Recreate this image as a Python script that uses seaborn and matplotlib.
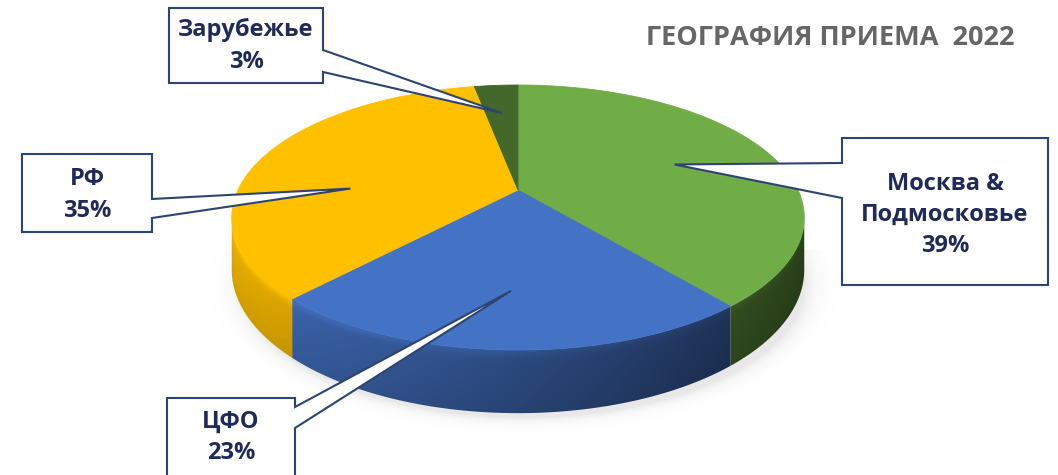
import numpy as np
import matplotlib
matplotlib.use("Agg")
import matplotlib.pyplot as plt
from matplotlib.patches import Polygon
import seaborn as sns

# ---- data ----
regions = ["Москва &\nПодмосковье", "ЦФО", "РФ", "Зарубежье"]
shares = [39, 23, 35, 3]
slice_colors = ["#70AD47", "#4472C4", "#FFC000", "#43682B"]
title_text = "ГЕОГРАФИЯ ПРИЕМА  2022"

sns.set_theme(style="white")
plt.rcParams["font.family"] = ["Open Sans", "DejaVu Sans"]
palette = sns.color_palette(slice_colors)

W, H = 1058, 475
fig = plt.figure(figsize=(W / 100, H / 100), dpi=100)
ax = fig.add_axes([0, 0, 1, 1])

# ---- 3D pie geometry (perspective tilt) ----
CX, CY = 518, 190
RX, RY = 280, 126.8
K = 0.2077          # perspective strength
DEPTH = 50          # wall height


def project(r, phi, z=0.0):
    u = r * np.cos(phi)
    v = r * np.sin(phi)
    d = 1 + K * v
    return CX + RX * u / d, CY - RY * v / d + z / d


fractions = np.asarray(shares, dtype=float) / sum(shares)
bounds = np.deg2rad(90 - 360 * np.concatenate([[0], np.cumsum(fractions)]))
vis_lo, vis_hi = -np.pi + np.arcsin(K), -np.arcsin(K)


def draw_wall(a_lo, a_hi, color):
    lo, hi = max(a_lo, vis_lo), min(a_hi, vis_hi)
    if lo >= hi:
        return
    phis = np.linspace(lo, hi, 300)
    tx, ty = project(1, phis)
    bx, by = project(1, phis, DEPTH)
    verts = np.column_stack([np.r_[tx, bx[::-1]], np.r_[ty, by[::-1]]])
    clip = Polygon(verts, closed=True, facecolor="none", edgecolor="none")
    ax.add_patch(clip)

    x0, x1 = np.floor(verts[:, 0].min()), np.ceil(verts[:, 0].max())
    y0, y1 = np.floor(verts[:, 1].min()), np.ceil(verts[:, 1].max())
    xs = np.arange(x0, x1) + 0.5
    ys = np.arange(y0, y1) + 0.5
    ytop = np.interp(xs, tx, ty)
    thick = np.interp(xs, tx, by - ty)
    t = np.clip((ys[:, None] - ytop[None, :]) / thick[None, :], 0, 1)
    # soft bevel at the rim, slightly darker toward the base
    vert = 0.95 - 0.10 * t + 0.12 * np.exp(-(t / 0.10) ** 2)
    # light from the left: the right side of the pie is much darker
    left, right = CX - RX * 1.02, CX + RX * 1.02
    horiz = 0.97 - 0.57 * np.clip((xs - left) / (right - left), 0, 1)
    shade = vert * horiz[None, :]
    rgb = np.clip(np.asarray(color)[None, None, :] * shade[:, :, None], 0, 1)
    img = np.dstack([rgb, np.ones(shade.shape)])
    im = ax.imshow(img, extent=(x0, x1, y1, y0), origin="upper",
                   interpolation="bilinear", aspect="auto", zorder=2)
    im.set_clip_path(clip)


# soft shadow below the pie
sx = np.arange(0, W) + 0.5
sy = np.arange(0, H) + 0.5
gx, gy = np.meshgrid(sx, sy)
ell = ((gx - CX - 6) / (RX * 1.0)) ** 2 + ((gy - (CY + 94)) / (RY * 1.05)) ** 2
shadow_a = 0.20 * np.exp(-np.clip(ell - 1, 0, None) * 14) * (gy > CY + 60)
shadow = np.dstack([np.full(ell.shape, 0.55)] * 3 + [shadow_a])
ax.imshow(shadow, extent=(0, W, H, 0), origin="upper", aspect="auto", zorder=1)

for i in range(len(shares)):
    draw_wall(bounds[i + 1], bounds[i], palette[i])

for i in range(len(shares)):
    phis = np.linspace(bounds[i], bounds[i + 1], 200)
    px, py = project(1, phis)
    verts = np.column_stack([np.r_[CX, px], np.r_[CY, py]])
    ax.add_patch(Polygon(verts, closed=True, facecolor=palette[i],
                         edgecolor=palette[i], lw=0.6, zorder=3))

# ---- callouts ----
EDGE = "#2E4470"
TEXT = "#1F2A5A"
callout_layout = [
    # box (x0, y0, x1, y1), pointer side, pointer base ys, tip (slice fraction, radius), text centre y
    dict(box=(842, 138, 1048, 285), side="left", base=(163, 198), tip=(0.5, 0.62), ty=215),
    dict(box=(167, 398, 295, 490), side="right", base=(407, 428), tip=(0.5, 0.683), ty=437),
    dict(box=(22, 154, 152, 232), side="right", base=(199, 218), tip=(0.38, 0.60), ty=195),
    dict(box=(169, 8, 323, 83), side="right", base=(50, 72), tip=(0.5, 0.698), ty=46),
]

for i, lay in enumerate(callout_layout):
    x0, y0, x1, y1 = lay["box"]
    b0, b1 = lay["base"]
    frac, rad = lay["tip"]
    ang = bounds[i] + frac * (bounds[i + 1] - bounds[i])
    tipx, tipy = project(rad, ang)
    if lay["side"] == "right":
        pts = [(x0, y0), (x1, y0), (x1, b0), (tipx, tipy), (x1, b1), (x1, y1), (x0, y1)]
    else:
        pts = [(x0, y0), (x1, y0), (x1, y1), (x0, y1), (x0, b1), (tipx, tipy), (x0, b0)]
    ax.add_patch(Polygon(pts, closed=True, facecolor="white", edgecolor=EDGE,
                         lw=1.5, joinstyle="miter", zorder=5))
    ax.text((x0 + x1) / 2, lay["ty"], f"{regions[i]}\n{shares[i]}%",
            ha="center", va="center", color=TEXT, fontsize=17, fontweight="bold",
            linespacing=1.4, zorder=6)

ax.text(830, 38, title_text, ha="center", va="center", color="#666666",
        fontsize=19.5, fontweight="bold", zorder=6)

ax.set_xlim(0, W)
ax.set_ylim(H, 0)
ax.axis("off")
fig.savefig("out.png", dpi=100, facecolor="white")
